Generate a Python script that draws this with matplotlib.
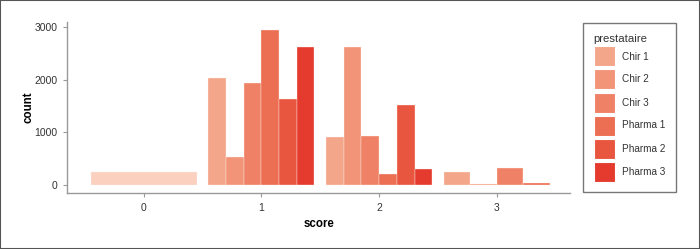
import numpy as np
import matplotlib
matplotlib.use("Agg")
import matplotlib.pyplot as plt
from matplotlib.patches import Patch

plt.rcParams['font.family'] = ['Liberation Sans', 'DejaVu Sans']

# data
groups = ['Chir 1', 'Chir 2', 'Chir 3', 'Pharma 1', 'Pharma 2', 'Pharma 3']
colors = ['#F4A68A', '#F29478', '#EF8266', '#EC6E53', '#E85640', '#E53B2E']
scores = [0, 1, 2, 3]
# counts per score, group -> value (only groups present)
counts_0 = {'Chir 1': 240}
counts_1 = {'Chir 1': 2040, 'Chir 2': 525, 'Chir 3': 1945,
            'Pharma 1': 2955, 'Pharma 2': 1645, 'Pharma 3': 2620}
counts_2 = {'Chir 1': 905, 'Chir 2': 2620, 'Chir 3': 925,
            'Pharma 1': 205, 'Pharma 2': 1530, 'Pharma 3': 305}
counts_3 = {'Chir 1': 240, 'Chir 2': 30, 'Chir 3': 325, 'Pharma 1': 40}
score0_color = '#FBD0BF'

fig = plt.figure(figsize=(7.0, 2.49), dpi=100)
ax = fig.add_axes([67/700, 56/249, (570-67)/700, (193-22)/249])

all_counts = [counts_0, counts_1, counts_2, counts_3]
for s, cnt in zip(scores, all_counts):
    present = [g for g in groups if g in cnt]
    n = len(present)
    w = 0.9 / n
    for i, g in enumerate(present):
        x = s - 0.45 + w * (i + 0.5)
        c = score0_color if s == 0 else colors[groups.index(g)]
        ax.bar(x, cnt[g], width=w, color=c, edgecolor='#FFF4F0', linewidth=0.25)

ax.set_xlim(-0.65, 3.62)
ax.set_ylim(-150, 3100)
ax.set_xticks(scores)
ax.set_yticks([0, 1000, 2000, 3000])
for side in ['top', 'right']:
    ax.spines[side].set_visible(False)
for side in ['left', 'bottom']:
    ax.spines[side].set_color('#999999')
    ax.spines[side].set_linewidth(1.0)
ax.tick_params(colors='#999999', labelcolor='#333333', labelsize=7.5,
               length=3, width=0.8, pad=4)
ax.set_xlabel('score', fontsize=8.3, fontweight='bold', labelpad=4)
ax.set_ylabel('count', fontsize=8.3, fontweight='bold', labelpad=0)

handles = [Patch(facecolor=c, edgecolor='white', linewidth=0.8) for c in colors]
leg = fig.legend(handles, groups, title='prestataire', loc='upper left',
                 bbox_to_anchor=(583/700, 1 - 23/249), fontsize=7.2,
                 title_fontsize=8.2, handlelength=2.1, handleheight=2.7,
                 handletextpad=0.8, labelspacing=0.3, borderpad=1.05,
                 borderaxespad=0, fancybox=False, framealpha=1)
leg.get_frame().set_edgecolor('#777777')
leg.get_frame().set_linewidth(1.0)
leg._legend_box.align = 'left'
for t in leg.get_texts():
    t.set_color('#333333')
leg.get_title().set_color('#333333')

# outer border
fig.patches.append(plt.Rectangle((0, 0), 1, 1, transform=fig.transFigure,
                                 fill=False, edgecolor='#555555', linewidth=1.5))

fig.savefig('out.png', dpi=100)
